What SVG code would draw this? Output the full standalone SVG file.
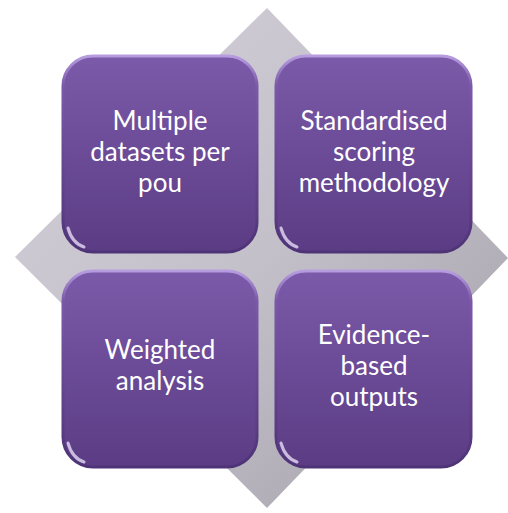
<svg xmlns="http://www.w3.org/2000/svg" width="508" height="513" viewBox="0 0 508 513">
<defs>
<linearGradient id="dg" x1="0" y1="0" x2="1" y2="1">
<stop offset="0" stop-color="#d4d1da"/>
<stop offset="0.5" stop-color="#c3c0c9"/>
<stop offset="1" stop-color="#a19ea9"/>
</linearGradient>
<linearGradient id="bg" x1="0" y1="0" x2="0" y2="1">
<stop offset="0" stop-color="#7b5aa9"/>
<stop offset="1" stop-color="#5b3c84"/>
</linearGradient>
<linearGradient id="eg" x1="0" y1="0" x2="0" y2="1">
<stop offset="0" stop-color="#b79de0"/>
<stop offset="0.15" stop-color="#7a5aa8"/>
<stop offset="1" stop-color="#4f3377"/>
</linearGradient>
<style>
.box{fill:url(#bg);stroke:url(#eg);stroke-width:3}
.gl{fill:none;stroke:#e6dcf5;stroke-width:3;stroke-linecap:round;opacity:0.8}
.t{font-family:Lato,"Open Sans",sans-serif;font-size:26px;fill:#ffffff;text-anchor:middle}
</style>
</defs>
<rect width="508" height="513" fill="#ffffff"/>
<g id="diamond">
<polygon points="267,8 508,258 267,508 15,257" fill="url(#dg)"/>
</g>
<g id="connectors"></g>
<g id="n1">
<rect class="box" x="63" y="56" width="194" height="196" rx="30"/>
<path class="gl" d="M68,228 Q72,243 84,247"/>
<text class="t" x="160" y="130">Multiple</text>
<text class="t" x="160" y="161">datasets per</text>
<text class="t" x="160" y="192">pou</text>
</g>
<g id="n2">
<rect class="box" x="276" y="56" width="195" height="196" rx="30"/>
<path class="gl" d="M281,228 Q285,243 297,247"/>
<text class="t" x="374" y="130">Standardised</text>
<text class="t" x="374" y="161">scoring</text>
<text class="t" x="374" y="192">methodology</text>
</g>
<g id="n3">
<rect class="box" x="63" y="271" width="194" height="196" rx="30"/>
<path class="gl" d="M68,443 Q72,458 84,462"/>
<text class="t" x="160" y="359">Weighted</text>
<text class="t" x="160" y="390">analysis</text>
</g>
<g id="n4">
<rect class="box" x="276" y="271" width="195" height="196" rx="30"/>
<path class="gl" d="M281,443 Q285,458 297,462"/>
<text class="t" x="374" y="344">Evidence-</text>
<text class="t" x="374" y="375">based</text>
<text class="t" x="374" y="406">outputs</text>
</g>
</svg>
